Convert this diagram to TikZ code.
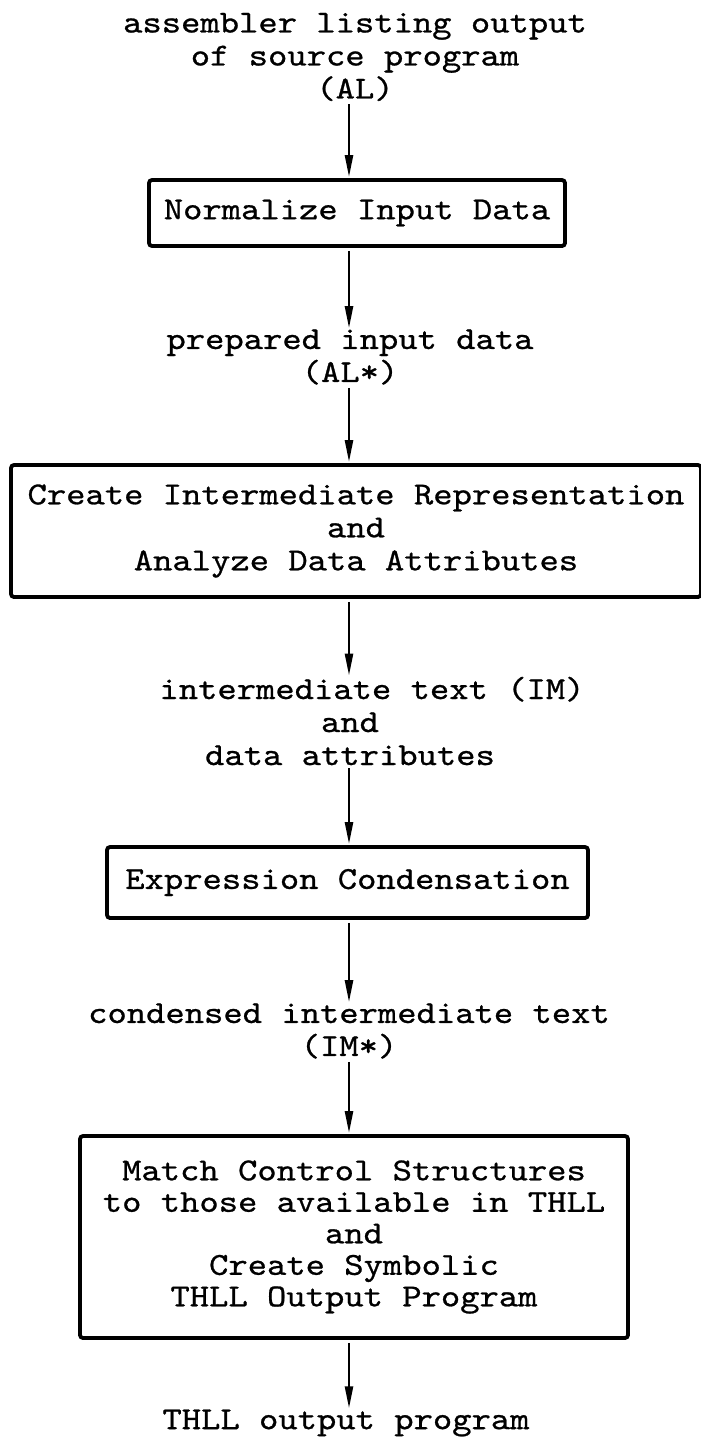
\documentclass[tikz,border=0pt]{standalone}
\usepackage{fontspec}
\usetikzlibrary{arrows.meta,calc}
% typewriter face, widened to the pitch of the original typing
\newfontfamily\twf{lmmono10-regular}[Extension=.otf, FakeStretch=1.15, FakeBold=0.8]
\newcommand\twfont[1]{\twf\fontsize{32}{#1}\selectfont}
\begin{document}
\begin{tikzpicture}[x=1pt,y=-1pt,
  txt/.style={font=\twfont{33}, align=center, inner sep=0pt},
  stepbox/.style={draw, line width=3.8pt, rounded corners=3pt, inner sep=0pt,
    font=\twfont{33}, align=center},
  flow/.style={line width=2.4pt, -{Triangle[length=22pt,width=8pt]},
    shorten <=3pt, shorten >=1pt}]
\useasboundingbox (0,0) rectangle (701,1440);
\coordinate (ax) at (349,0);

% data and processing steps, top to bottom
\node[txt] (src) at (355,57) {assembler listing output\\of source program\\(AL)};
\node[stepbox, minimum width=416pt, minimum height=66pt] (norm) at (357,213)
  {Normalize Input Data};
\node[txt] (prep) at (350,357) {prepared input data\\(AL*)};
\node[stepbox, minimum width=690pt, minimum height=132pt] (create) at (356,531)
  {Create Intermediate Representation\\and\\Analyze Data Attributes};
\node[txt] (inter) at (350,721) {\hspace*{44pt}intermediate text (IM)\\and\\data attributes};
\node[stepbox, minimum width=481pt, minimum height=71pt] (cond) at (347.5,882.5)
  {Expression Condensation};
\node[txt] (condtxt) at (349,1031) {condensed intermediate text\\(IM*)};
\node[stepbox, minimum width=548pt, minimum height=202pt, font=\twfont{31.5}]
  (match) at (354,1237)
  {Match Control Structures\\to those available in THLL\\and\\Create Symbolic\\THLL Output Program};
\node[txt] (out) at (346,1423) {THLL output program};

% connectors
\draw[flow] (src.south -| ax) -- (norm.north -| ax);
\draw[flow] (norm.south -| ax) -- (prep.north -| ax);
\draw[flow] (prep.south -| ax) -- (create.north -| ax);
\draw[flow] (create.south -| ax) -- (inter.north -| ax);
\draw[flow] (inter.south -| ax) -- (cond.north -| ax);
\draw[flow] (cond.south -| ax) -- (condtxt.north -| ax);
\draw[flow] (condtxt.south -| ax) -- (match.north -| ax);
\draw[flow] (match.south -| ax) -- (out.north -| ax);
\end{tikzpicture}
\end{document}
